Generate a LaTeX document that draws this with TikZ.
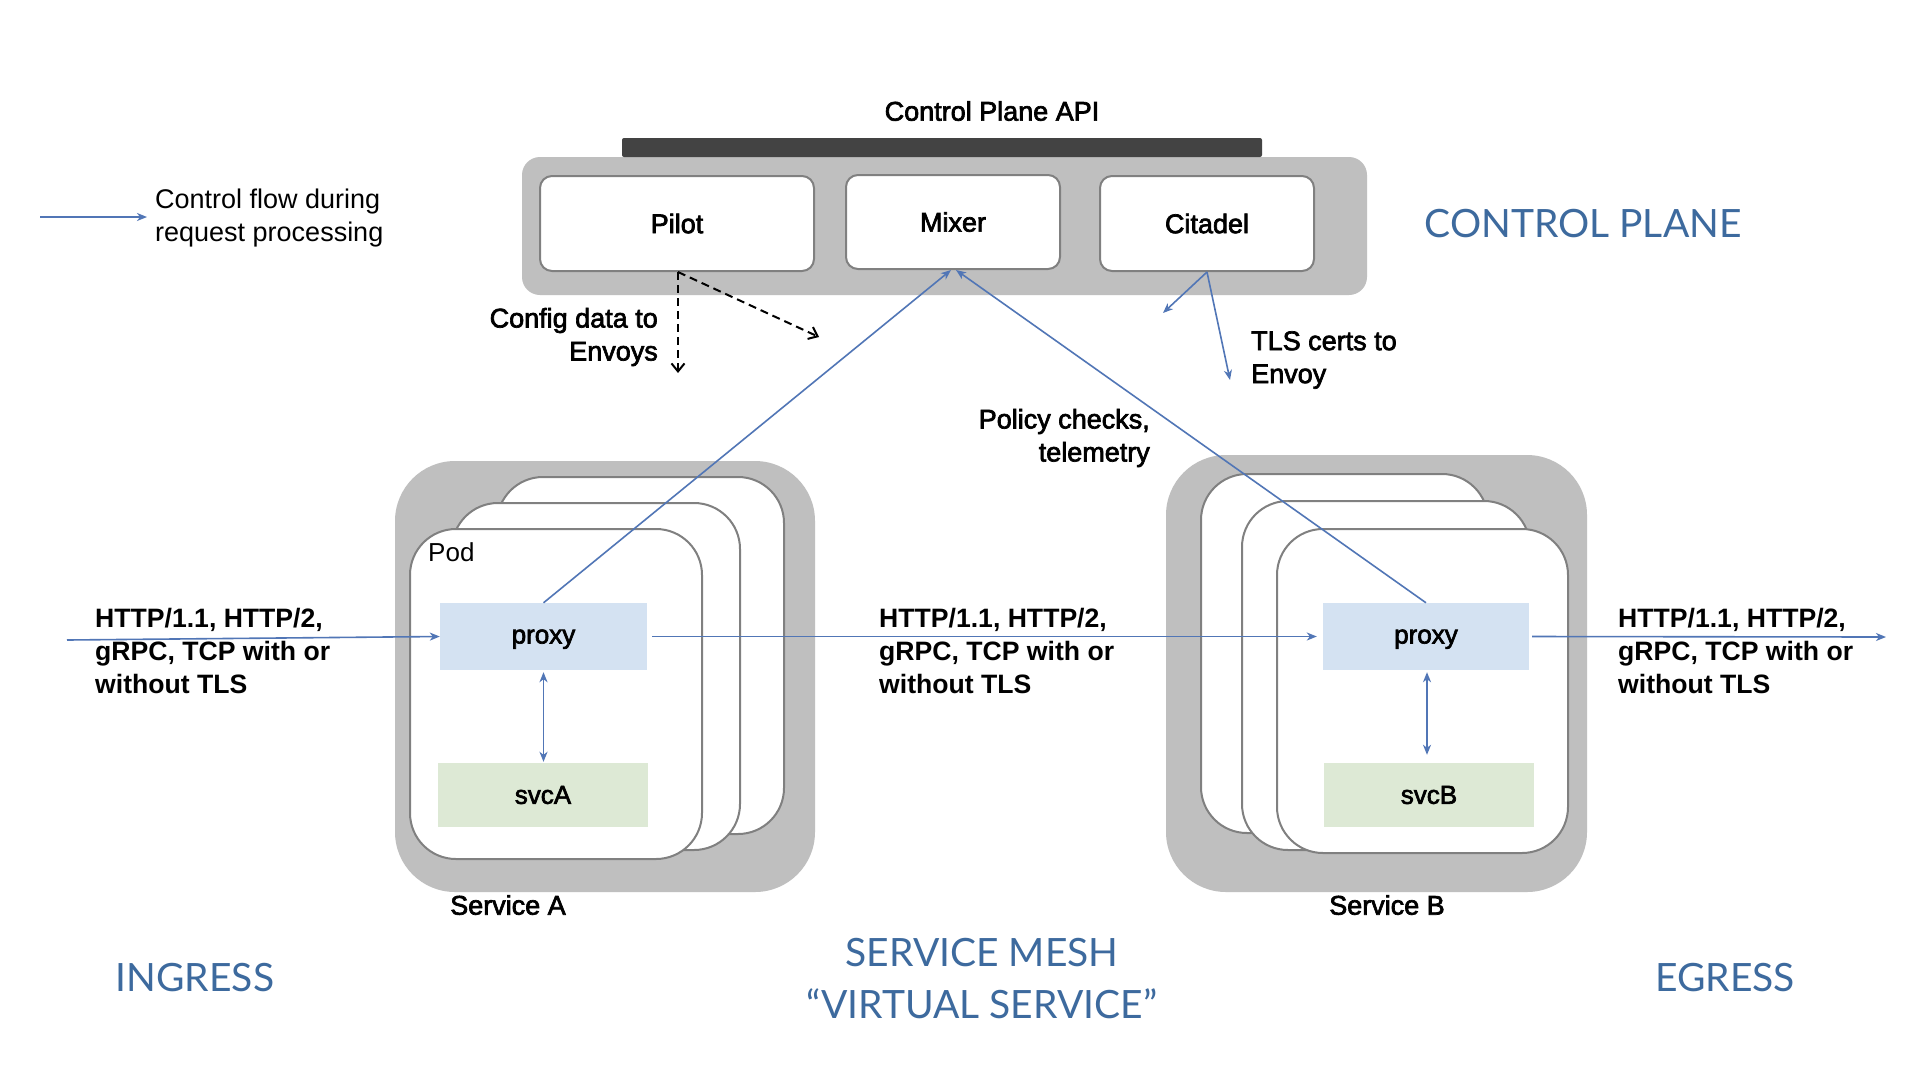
\documentclass[tikz,border=0pt]{standalone}
\usepackage{fontspec}
\setmainfont{Liberation Sans}
\newfontfamily\medfont{Liberation Sans}[FakeBold=2.5]
\newfontfamily\labfont{Lato}
\usetikzlibrary{arrows.meta}
\definecolor{cgray}{HTML}{BFBFBF}
\definecolor{cdark}{HTML}{434343}
\definecolor{cborder}{HTML}{808080}
\definecolor{cflow}{HTML}{5176B6}
\definecolor{cproxy}{HTML}{D4E2F2}
\definecolor{csvc}{HTML}{DDE9D5}
\definecolor{clab}{HTML}{3D6A9E}
\tikzset{
  container/.style={fill=cgray, draw=none, rounded corners=#1},
  cpbox/.style={fill=white, draw=cborder, line width=2pt, rounded corners=12pt},
  podbox/.style={fill=white, draw=cborder, line width=2pt, rounded corners=46pt},
  proxybox/.style={fill=cproxy, draw=none, font=\medfont\fontsize{26}{33}\selectfont, text height=14pt, text depth=0pt},
  svcbox/.style={fill=csvc, draw=none, font=\medfont\fontsize{26}{33}\selectfont},
  flow/.style={draw=cflow, line width=1.6pt, -{Stealth[length=10pt,width=8pt,inset=3pt]}},
  flowboth/.style={draw=cflow, line width=1.6pt, {Stealth[length=10pt,width=8pt,inset=3pt]}-{Stealth[length=10pt,width=8pt,inset=3pt]}},
  cfg/.style={draw=black, line width=2pt, dash pattern=on 8pt off 5pt, -{Straight Barb[length=8pt,width=13pt]}},
  medtxt/.style={font=\medfont\fontsize{27}{33}\selectfont, inner sep=0pt},
  regtxt/.style={font=\fontsize{27}{33}\selectfont, inner sep=0pt},
  boldtxt/.style={font=\bfseries\fontsize{26.6}{33}\selectfont, inner sep=0pt, align=left},
  bluelab/.style={font=\labfont\fontsize{39}{50}\selectfont, text=clab, inner sep=0pt},
}
\begin{document}
\begin{tikzpicture}[x=1pt,y=-1pt]
\useasboundingbox[fill=white] (0,0) rectangle (1920,1080);

% ---------- control plane ----------
\node[container=18pt, minimum width=845pt, minimum height=138pt] (cp) at (944.5,226) {};
\node[fill=cdark, rounded corners=2pt, minimum width=640pt, minimum height=19pt, inner sep=0pt] (api) at (942,147.5) {};
\node[medtxt] (apilab) at (992,111) {Control Plane API};
\node[cpbox, minimum width=274pt, minimum height=95pt, medtxt] (pilot) at (677,223.5) {Pilot};
\node[cpbox, minimum width=214pt, minimum height=94pt, medtxt] (mixer) at (953,222) {Mixer};
\node[cpbox, minimum width=214pt, minimum height=95pt, medtxt] (citadel) at (1207,223.5) {Citadel};
\node[bluelab] (cplab) at (1583,224) {CONTROL PLANE};

% ---------- legend ----------
\coordinate (lg1) at (40,217);
\coordinate (lg2) at (147,217);
\draw[flow] (lg1) -- (lg2);
\node[regtxt, anchor=west, align=left] (lgtxt) at (155,218) {Control flow during\\request processing};

% ---------- service A ----------
\node[container=60pt, minimum width=420pt, minimum height=431pt] (svcAbox) at (605,676.5) {};
\node[podbox, minimum width=287pt, minimum height=357pt] (podA3) at (640.5,655.5) {};
\node[podbox, minimum width=288pt, minimum height=347pt] (podA2) at (596,676.5) {};
\node[podbox, minimum width=292pt, minimum height=330pt] (podA1) at (556,694) {};
\node[regtxt, font=\fontsize{26}{30}\selectfont, anchor=west] (podlab) at (428,552) {Pod};
\node[proxybox, minimum width=207pt, minimum height=67pt] (proxyA) at (543.5,636.5) {proxy};
\node[svcbox, minimum width=210pt, minimum height=64pt] (svcA) at (543,795) {svcA};
\node[medtxt] (svcAlab) at (508,905) {Service A};

% ---------- service B ----------
\node[container=60pt, minimum width=421pt, minimum height=437pt] (svcBbox) at (1376.5,673.5) {};
\node[podbox, minimum width=287pt, minimum height=359pt] (podB3) at (1344.5,653.5) {};
\node[podbox, minimum width=288pt, minimum height=349pt] (podB2) at (1386,675.5) {};
\node[podbox, minimum width=291pt, minimum height=324pt] (podB1) at (1422.5,691) {};
\node[proxybox, minimum width=206pt, minimum height=67pt] (proxyB) at (1426,636.5) {proxy};
\node[svcbox, minimum width=210pt, minimum height=64pt] (svcB) at (1429,795) {svcB};
\node[medtxt] (svcBlab) at (1387,905) {Service B};

% ---------- request flow ----------
\coordinate (ingress) at (67,640);
\coordinate (egress) at (1886,637);
\draw[flow] (ingress) -- (proxyA.west);
\draw[flow, shorten <=5pt, shorten >=6pt] (proxyA.east) -- (proxyB.west);
\draw[flow, shorten <=3pt] (proxyB.east) -- (egress);
\draw[flowboth, shorten <=2pt, shorten >=1pt] (proxyA.south) -- (proxyA.south |- svcA.north);
\draw[flowboth, shorten <=2pt, shorten >=8pt] ([xshift=1pt]proxyB.south) -- ([xshift=1pt]proxyB.south |- svcB.north);

% ---------- control flows ----------
\draw[flow] (proxyA.north) -- ([xshift=-2pt]mixer.south);
\draw[flow] (proxyB.north) -- ([xshift=3pt]mixer.south);
\coordinate (citL) at (1163,313);
\coordinate (citD) at (1230,380);
\draw[flow] (citadel.south) -- (citL);
\draw[flow] (citadel.south) -- (citD);
\coordinate (cfgD) at (678,373);
\coordinate (cfgR) at (819,337);
\draw[cfg] ([xshift=1pt]pilot.south) -- (cfgD);
\draw[cfg] ([xshift=1pt]pilot.south) -- (cfgR);

% ---------- labels ----------
\node[medtxt, anchor=east, align=right] (cfglab) at (658,337) {Config data to\\Envoys};
\node[medtxt, anchor=west, align=left] (tlslab) at (1251,360) {TLS certs to\\Envoy};
\node[medtxt, anchor=east, align=right] (pollab) at (1150,438) {Policy checks,\\telemetry};
\node[boldtxt, anchor=west] (http1) at (95,651) {HTTP/1.1, HTTP/2,\\gRPC, TCP with or\\without TLS};
\node[boldtxt, anchor=west] (http2) at (879,651) {HTTP/1.1, HTTP/2,\\gRPC, TCP with or\\without TLS};
\node[boldtxt, anchor=west] (http3) at (1618,651) {HTTP/1.1, HTTP/2,\\gRPC, TCP with or\\without TLS};

\node[bluelab] (inglab) at (195,978) {INGRESS};
\node[bluelab, align=center] (meshlab) at (982,978.5) {SERVICE MESH\\[2pt]“VIRTUAL SERVICE”};
\node[bluelab] (eglab) at (1725,978) {EGRESS};
\end{tikzpicture}
\end{document}
